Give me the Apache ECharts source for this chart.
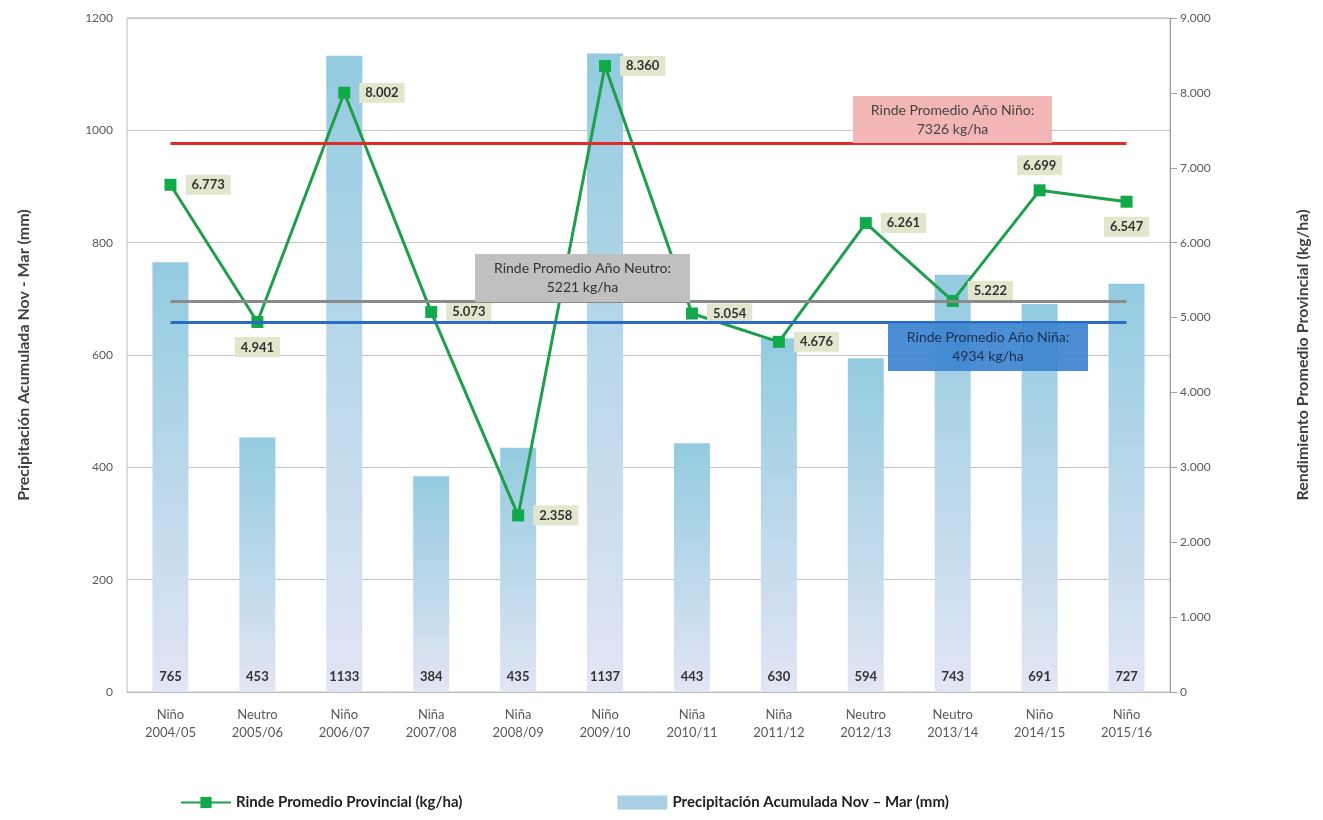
<!DOCTYPE html>
<html>
<head>
<meta charset="utf-8">
<script src="https://cdn.jsdelivr.net/npm/echarts@6/dist/echarts.min.js"></script>
<style>
	html,body{margin:0;padding:0;background:#fff;}
	#chart{width:1323px;height:820px;}
</style>
</head>
<body>
<div id="chart"></div>
<script>
var categories = ['Niño\n2004/05','Neutro\n2005/06','Niño\n2006/07','Niña\n2007/08','Niña\n2008/09','Niño\n2009/10',
	'Niña\n2010/11','Niña\n2011/12','Neutro\n2012/13','Neutro\n2013/14','Niño\n2014/15','Niño\n2015/16'];
var precipitacion = [765,453,1133,384,435,1137,443,630,594,743,691,727];
var rinde = [6773,4941,8002,5073,2358,8360,5054,4676,6261,5222,6699,6547];
var rindeLabelPos = ['right','bottom','right','right','right','right','right','right','right','right','top','bottom'];
var promNino = 7326;
var promNeutro = 5221;
var promNina = 4934;

var font = 'Lato';

function miles(v){
	var s = String(v);
	if(v < 1000) return s;
	return s.slice(0, s.length-3) + '.' + s.slice(s.length-3);
}

// caja de anotacion: rect + texto centrado
function caja(x, y, w, h, fill, txtColor, txt, opacity){
	return [
		{type:'rect',z:10,shape:{x:x,y:y,width:w,height:h},style:{fill:fill,opacity:opacity || 1}},
		{type:'text',z:11,style:{x:x+w/2,y:y+5,text:txt,align:'center',verticalAlign:'top',fill:txtColor,font:'14px Lato',lineHeight:19}}
	];
}

var rindeData = [];
for(var i=0;i<rinde.length;i++){
	var lbl = {position: rindeLabelPos[i]};
	if(i == 9) lbl.offset = [0,-10];
	rindeData.push({value: rinde[i], label: lbl});
}

var graficos = []
	.concat(caja(853,96,199,47,'#f2b6b6','#444','Rinde Promedio Año Niño:\n' + promNino + ' kg/ha'))
	.concat(caja(475,254,215,48,'#c0c0c0','#333','Rinde Promedio Año Neutro:\n' + promNeutro + ' kg/ha'))
	.concat(caja(888,323,200,48,'#3d84cf','#1b2f4f','Rinde Promedio Año Niña:\n' + promNina + ' kg/ha',0.92));

var myChart = echarts.init(document.getElementById('chart'));
myChart.setOption({
	backgroundColor:'#fff',
	textStyle:{fontFamily:font},
	grid:{left:127,right:153,top:18,bottom:128,show:true,borderColor:'#bdbdbd',borderWidth:1},
	legend:{
		left:175,
		top:790,
		itemGap:155,
		itemWidth:50,
		itemHeight:14,
		textStyle:{fontFamily:font,fontSize:15,fontWeight:'bold',color:'#222'},
		data:[
			{name:'Rinde Promedio Provincial (kg/ha)'},
			{name:'Precipitación Acumulada Nov – Mar (mm)',icon:'rect',itemStyle:{color:'#a9d0e4'}}
		]
	},
	xAxis:{
		type:'category',
		data:categories,
		axisLine:{lineStyle:{color:'#bdbdbd'}},
		axisTick:{show:false},
		axisLabel:{color:'#595959',fontSize:13,lineHeight:18,margin:14,interval:0}
	},
	yAxis:[{
		type:'value',
		min:0,max:1200,interval:200,
		name:'Precipitación Acumulada Nov - Mar (mm)',
		nameLocation:'middle',
		nameGap:95,
		nameTextStyle:{fontSize:16,fontWeight:'bold',color:'#404040',fontFamily:font},
		axisLine:{show:false},
		axisTick:{show:false},
		axisLabel:{color:'#595959',fontSize:12,margin:14,formatter:function(v){return String(v);}},
		splitLine:{lineStyle:{color:'#c4c4c4',width:1}}
	},{
		type:'value',
		min:0,max:9000,interval:1000,
		name:'Rendimiento Promedio Provincial (kg/ha)',
		nameLocation:'middle',
		nameGap:125,
		nameTextStyle:{fontSize:16,fontWeight:'bold',color:'#404040',fontFamily:font},
		axisLine:{show:true,lineStyle:{color:'#9e9e9e'}},
		axisTick:{show:true,length:7,lineStyle:{color:'#9e9e9e'}},
		axisLabel:{color:'#595959',fontSize:12,margin:10,formatter:function(v){return miles(v);}},
		splitLine:{show:false}
	}],
	series:[{
		name:'Precipitación Acumulada Nov – Mar (mm)',
		type:'bar',
		data:precipitacion,
		barWidth:36,
		itemStyle:{
			color:new echarts.graphic.LinearGradient(0,0,0,1,[
				{offset:0,color:'#93cbe0'},
				{offset:1,color:'#e2e5f4'}
			])
		},
		label:{
			show:true,
			position:'insideBottom',
			distance:9,
			fontSize:13,
			fontWeight:'bold',
			color:'#333',
			fontFamily:font
		},
		z:1
	},{
		name:'Rinde Promedio Provincial (kg/ha)',
		type:'line',
		yAxisIndex:1,
		data:rindeData,
		symbol:'rect',
		symbolSize:12,
		lineStyle:{color:'#1f9e4b',width:3},
		itemStyle:{color:'#12a94a'},
		label:{
			show:true,
			distance:9,
			fontSize:13,
			fontWeight:'bold',
			color:'#333',
			fontFamily:font,
			backgroundColor:'#e2e6cc',
			padding:[4,6,3,6],
			formatter:function(p){return miles(p.value);}
		},
		markLine:{
			silent:true,
			symbol:'none',
			label:{show:false},
			data:[
				[{coord:[0,promNino],lineStyle:{color:'#e02b2b',width:3,type:'solid'}},{coord:[11,promNino]}],
				[{coord:[0,promNeutro],lineStyle:{color:'#8a8a8a',width:3,type:'solid'}},{coord:[11,promNeutro]}],
				[{coord:[0,promNina],lineStyle:{color:'#2a6cc4',width:3,type:'solid'}},{coord:[11,promNina]}]
			]
		},
		z:3
	}],
	graphic:graficos
});
</script>
</body>
</html>
